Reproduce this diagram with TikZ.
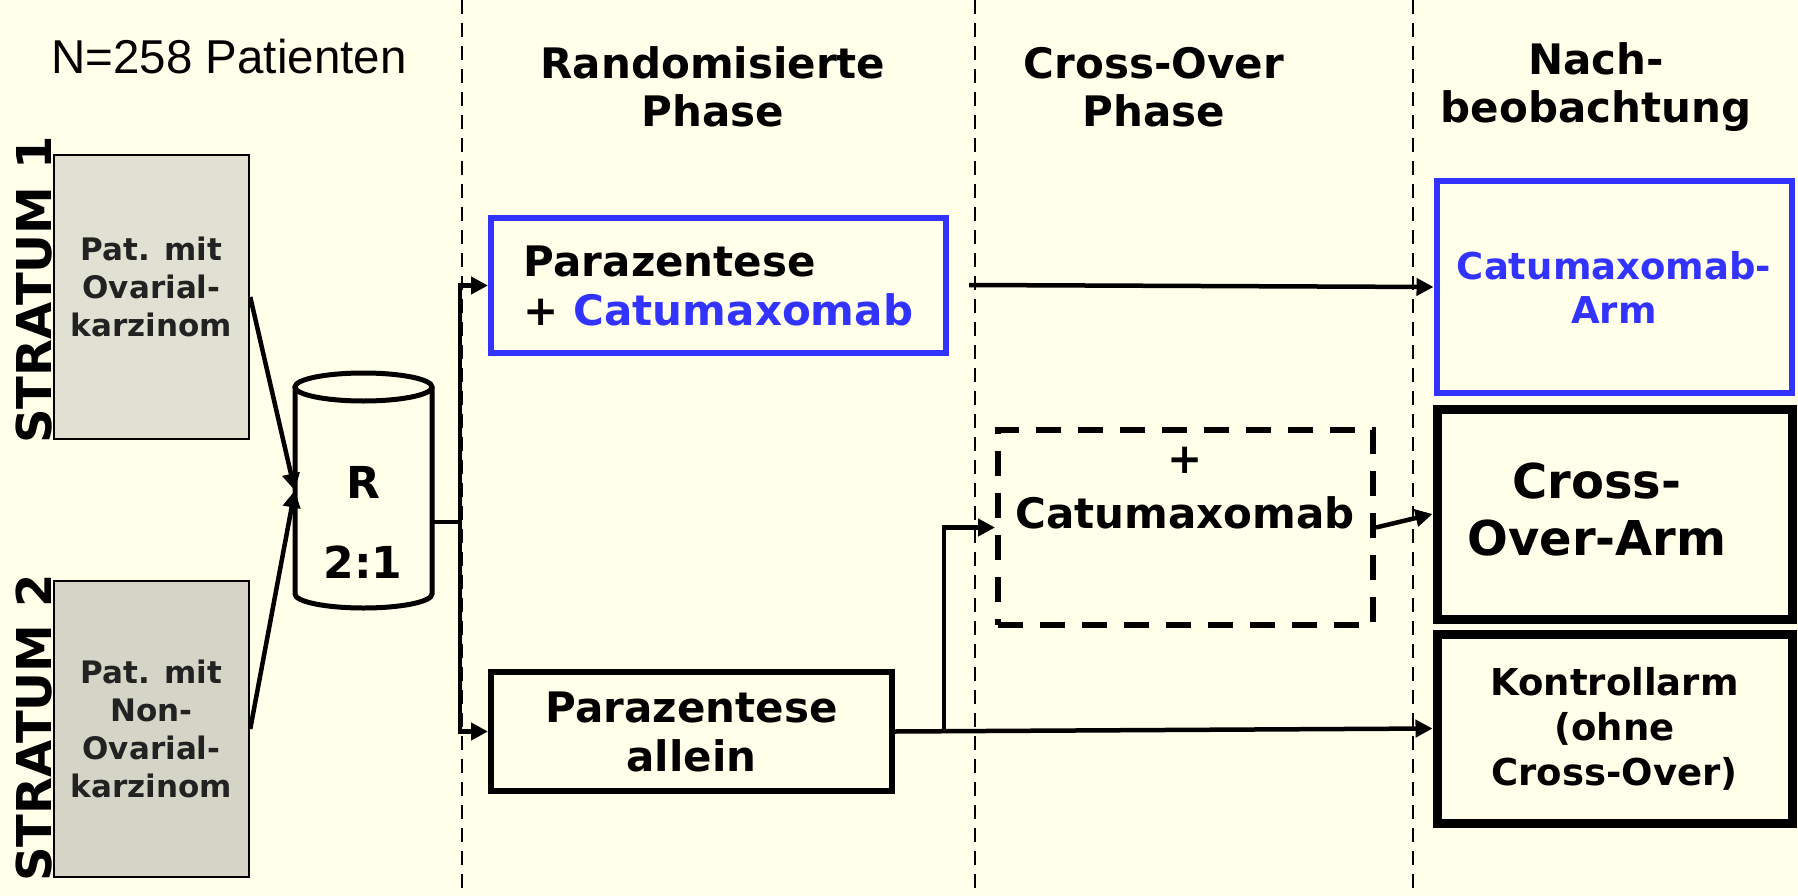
\documentclass[tikz,border=0pt]{standalone}
\usepackage{fontspec}
\setmainfont{DejaVu Sans}
\newfontfamily\arialfont{Liberation Sans}
\usetikzlibrary{arrows.meta}

\definecolor{bgcream}{HTML}{FFFFEA}
\definecolor{armblue}{HTML}{3333FF}
\definecolor{stratgreyA}{HTML}{E1E1D3}
\definecolor{stratgreyB}{HTML}{D5D5C7}
\definecolor{darktext}{HTML}{222222}

\tikzset{
  sep/.style={line width=2pt, dash pattern=on 14pt off 9pt},
  flow/.style={line width=4.5pt, -{Triangle[length=17pt, width=17pt]}},
  header/.style={align=center, font=\fontsize{42}{48}\selectfont\bfseries},
  stratlabel/.style={rotate=90, font=\fontsize{48}{50}\selectfont\bfseries},
  stratbox/.style={draw, line width=2.5pt, inner sep=0pt, minimum width=195pt, align=center,
    text=darktext, font=\fontsize{31}{38}\selectfont\bfseries},
  phasebox/.style={draw, line width=6pt, inner sep=0pt, font=\fontsize{42}{49}\selectfont\bfseries},
  armbox/.style={draw, line width=9pt, inner sep=0pt, minimum width=355pt, align=center}
}

\begin{document}
\begin{tikzpicture}[x=1pt, y=-1pt]
  \fill[bgcream] (0,0) rectangle (1798,896);
  \useasboundingbox (0,0) rectangle (1798,896);

  % phase separators
  \draw[sep] (462,0) -- (462,896);
  \draw[sep] (975,0) -- (975,896);
  \draw[sep] (1413,0) -- (1413,896);

  % headers
  \node[font=\arialfont\fontsize{47.5}{50}\selectfont] (hN) at (229,57) {N=258 Patienten};
  \node[header] (hRand) at (713,87) {Randomisierte\\Phase};
  \node[header] (hCross) at (1154,87) {Cross-Over\\Phase};
  \node[header] (hNach) at (1596,87) {Nach-\\beobachtung};

  % strata
  \node[stratlabel] (st1) at (34,290) {STRATUM 1};
  \node[stratlabel] (st2) at (34,728) {STRATUM 2};
  \node[stratbox, fill=stratgreyA, minimum height=284pt] (s1) at (151.5,297) {};
  \node[stratbox, draw=none] (s1txt) at (151.5,287) {Pat. mit\\Ovarial-\\karzinom};
  \node[stratbox, fill=stratgreyB, minimum height=296pt] (s2) at (151.5,729) {Pat. mit\\Non-\\Ovarial-\\karzinom};

  % randomisation drum
  \node[inner sep=0pt, minimum width=137pt, minimum height=235pt] (cyl) at (363.5,490.5) {};
  \draw[line width=5pt] (295,387) -- (295,594)
    arc[start angle=180, end angle=360, x radius=68.5pt, y radius=14pt] -- (432,387);
  \draw[line width=5pt] (363.5,387) ellipse[x radius=68.5pt, y radius=14pt];
  \node[align=center, font=\fontsize{44}{80}\selectfont\bfseries] (rtxt) at (363,522) {R\\2:1};
  \coordinate (split) at (460,522);

  \draw[flow] (s1.east) -- (cyl.west);
  \draw[flow] (s2.east) -- (cyl.west);
  \draw[line width=4.5pt] (cyl.east |- split) -- (split);

  % randomised phase
  \node[phasebox, draw=armblue, minimum width=455pt, minimum height=135pt, align=left] (pz) at (718.5,285.5)
    {Parazentese\\+ \textcolor{armblue}{Catumaxomab}};
  \node[phasebox, minimum width=401pt, minimum height=119pt, align=center] (pa) at (691.5,731.5)
    {Parazentese\\allein};
  \draw[flow] (split) |- (pz.west);
  \draw[flow] (split) |- (pa.west);

  % cross-over phase
  \node[draw, line width=6pt, dash pattern=on 25pt off 17pt, minimum width=375pt, minimum height=195pt] (dbox) at (1185.5,527.5) {};
  \node[align=center, font=\fontsize{42}{55}\selectfont\bfseries] (dtxt) at (1185,488) {+\\Catumaxomab};

  % follow-up
  \node[armbox, draw=armblue, line width=6pt, minimum height=212pt, text=armblue,
        font=\fontsize{37}{44}\selectfont\bfseries] (arm1) at (1614,287) {Catumaxomab-\\Arm};
  \node[armbox, minimum height=210pt] (arm2) at (1614.5,514) {};
  \node[align=center, font=\fontsize{48}{57}\selectfont\bfseries] (arm2txt) at (1597,510) {Cross-\\Over-Arm};
  \node[armbox, minimum height=189pt, font=\fontsize{37}{45}\selectfont\bfseries] (arm3) at (1614.5,728.5) {Kontrollarm\\(ohne\\Cross-Over)};

  \coordinate (pzout) at (969,285);
  \coordinate (fork) at (944,731.5);
  \draw[flow] (pzout) -- (arm1.west);
  \draw[flow] (pa.east) -- (arm3.west);
  \draw[flow] (fork) |- (dbox.west);
  \draw[flow] (dbox.east) -- (arm2.west);
\end{tikzpicture}
\end{document}
